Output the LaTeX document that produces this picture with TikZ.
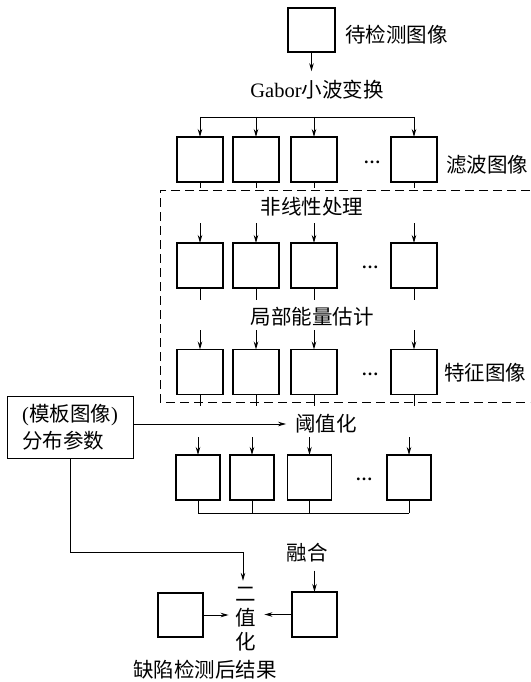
\documentclass[tikz,border=0pt]{standalone}
\usepackage{fontspec}
\setmainfont{Liberation Serif}
\newfontfamily\cjk{Noto Sans CJK SC}
\newfontfamily\lserif{Liberation Serif}
\usetikzlibrary{arrows.meta}
\begin{document}
\begin{tikzpicture}[x=1pt,y=-1pt,
  box/.style={draw,line width=1.8pt,minimum width=46pt,minimum height=45pt,inner sep=0pt,outer sep=0pt},
  lbl/.style={font=\cjk\fontsize{20.5}{24}\selectfont,inner sep=0pt},
  dotlbl/.style={font=\lserif\bfseries\fontsize{17}{17}\selectfont,inner sep=0pt},
  arr/.style={-{Stealth[length=8pt,width=4.5pt]},line width=0.9pt},
  ln/.style={line width=0.9pt},
  dsh/.style={dash pattern=on 9pt off 5pt,line width=1pt}]
\useasboundingbox (0,0) rectangle (530,682);

% top
\node[box,minimum width=47pt,minimum height=44pt] (top) at (311.5,30) {};
\node[lbl,anchor=west] (tlbl) at (345,35) {待检测图像};
\node[lbl] (gab) at (317,90) {{\lserif Gabor}小波变换};
\draw[arr] (top.south) -- ([yshift=9pt]top.south |- gab.north);

% rows of boxes
\foreach \i/\x in {1/200,2/256,3/314,4/414} {
  \node[box] (a\i) at (\x,159.5) {};
  \node[box] (b\i) at (\x,265.5) {};
  \node[box] (c\i) at (\x,372) {};
}
\foreach \i/\x in {1/198,2/252,3/309.5,4/409} {
  \node[box,minimum width=44pt] (d\i) at (\x,477.5) {};
}
\node[dotlbl] (dots1) at (372,162) {…};
\node[dotlbl] (dots2) at (370,267) {…};
\node[dotlbl] (dots3) at (370,374) {…};
\node[dotlbl] (dots4) at (364,479) {…};

\node[lbl,anchor=west] (flt) at (446,165) {滤波图像};
\node[lbl] (nonlin) at (312,207) {非线性处理};
\node[lbl] (energy) at (312,317) {局部能量估计};
\node[lbl,anchor=west] (feat) at (444,373) {特征图像};

% distribution to row 1
\coordinate (g) at (314,117);
\draw[ln] (a1.north |- g) -- (a4.north |- g);
\foreach \i in {1,...,4} {
  \draw[arr] (a\i.north |- g) -- (a\i.north);
  \draw[ln] (a\i.south) -- ++(0,6);
  \draw[arr] (b\i.north |- 0,223) -- (b\i.north);
  \draw[ln] (b\i.south) -- (b\i.south |- 0,300);
  \draw[arr] (c\i.north |- 0,330) -- (c\i.north);
  \draw[ln] (c\i.south) -- (c\i.south |- 0,406);
  \draw[arr] (d\i.north |- 0,437) -- (d\i.north);
  \draw[ln] (d\i.south) -- (d\i.south |- 0,513);
}
\draw[ln] (d1.south |- 0,513) -- (d4.south |- 0,513);

% dashed frame
\draw[dsh] (530,190) -- (160,190) -- (160,402) -- (530,402);

% template
\node[draw,line width=0.9pt,minimum width=126pt,minimum height=62pt,align=left,
      font=\cjk\fontsize{20.5}{27}\selectfont,inner sep=0pt] (tpl) at (70,427)
      {{\lserif(}模板图像{\lserif)}\\分布参数};
\node[lbl] (thr) at (326,424) {阈值化};
\draw[arr] (tpl.east |- thr) -- ([xshift=-9pt]thr.west);

% bottom
\node[lbl] (fuse) at (307,553) {融合};
\node[box,minimum width=45pt,minimum height=45pt] (rb) at (314.5,614.5) {};
\node[box,minimum width=45pt,minimum height=44pt] (lb) at (180.5,615) {};
\node[lbl,align=center] (bin) at (246,619) {二\\值\\化};
\node[lbl] (res) at (205,670) {缺陷检测后结果};

\coordinate (corner) at (243,552);
\draw[arr] (tpl.south) -- (tpl.south |- corner) -- (corner) -- ([yshift=6pt]corner |- bin.north);
\draw[arr] (fuse.south -| rb.north) ++(0,8) -- (rb.north);
\draw[arr] (lb.east) -- ([xshift=-7pt]lb.east -| bin.west);
\draw[arr] (rb.west) -- ([xshift=8pt]rb.west -| bin.east);
\end{tikzpicture}
\end{document}
